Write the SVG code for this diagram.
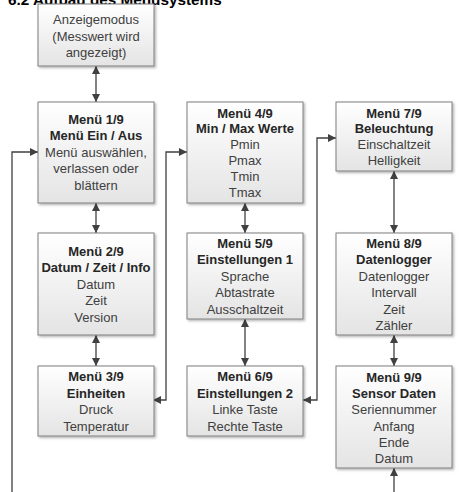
<svg xmlns="http://www.w3.org/2000/svg" width="461" height="492" viewBox="0 0 461 492">
<defs>
<linearGradient id="g" x1="0" y1="0" x2="0" y2="1">
<stop offset="0" stop-color="#ffffff"/>
<stop offset="1" stop-color="#e4e4e4"/>
</linearGradient>
<filter id="sh" x="-10%" y="-10%" width="130%" height="130%">
<feDropShadow dx="1.5" dy="1.5" stdDeviation="1" flood-color="#000" flood-opacity="0.3"/>
</filter>
<marker id="a" viewBox="0 0 10 10" refX="10" refY="5" markerWidth="9" markerHeight="8" markerUnits="userSpaceOnUse" orient="auto-start-reverse">
<path d="M0,0 L10,5 L0,10 z" fill="#404040"/>
</marker>
</defs>
<style>
.box{fill:url(#g);stroke:#7f7f7f;stroke-width:1;filter:url(#sh)}
text{font-family:"Liberation Sans",Arial,sans-serif;font-size:13px;text-anchor:middle}
.h{font-weight:bold;fill:#262626}
.b{fill:#404040}
.c{fill:none;stroke:#404040;stroke-width:1.3}
.t{font-weight:bold;text-anchor:start;fill:#000;font-size:15.3px}
</style>
<text class="t" x="8" y="4.5">6.2 Aufbau des Menüsystems</text>
<g id="connectors">
<line class="c" x1="96" y1="66" x2="96" y2="102" marker-start="url(#a)" marker-end="url(#a)"/>
<line class="c" x1="96" y1="203" x2="96" y2="233" marker-start="url(#a)" marker-end="url(#a)"/>
<line class="c" x1="96" y1="335" x2="96" y2="366" marker-start="url(#a)" marker-end="url(#a)"/>
<line class="c" x1="245" y1="203" x2="245" y2="233" marker-start="url(#a)" marker-end="url(#a)"/>
<line class="c" x1="245" y1="319" x2="245" y2="366" marker-start="url(#a)" marker-end="url(#a)"/>
<line class="c" x1="394" y1="171" x2="394" y2="233" marker-start="url(#a)" marker-end="url(#a)"/>
<line class="c" x1="394" y1="335" x2="394" y2="366" marker-start="url(#a)" marker-end="url(#a)"/>
<line class="c" x1="394" y1="492" x2="394" y2="468" marker-end="url(#a)"/>
<polyline class="c" points="12,492 12,152 38,152" marker-end="url(#a)"/>
<polyline class="c" points="153,400 166,400 166,152 187,152" marker-start="url(#a)" marker-end="url(#a)"/>
<polyline class="c" points="303,400 317,400 317,138 336,138" marker-start="url(#a)" marker-end="url(#a)"/>
</g>
<g id="anzeige">
<rect class="box" x="38" y="4" width="116" height="62"/>
<text class="b" x="96" y="24">Anzeigemodus</text>
<text class="b" x="96" y="40.5">(Messwert wird</text>
<text class="b" x="96" y="57">angezeigt)</text>
</g>
<g id="m1">
<rect class="box" x="38" y="102" width="116" height="101"/>
<text class="h" x="96" y="123.5">Menü 1/9</text>
<text class="h" x="96" y="140">Menü Ein / Aus</text>
<text class="b" x="96" y="156.5">Menü auswählen,</text>
<text class="b" x="96" y="173">verlassen oder</text>
<text class="b" x="96" y="190">blättern</text>
</g>
<g id="m2">
<rect class="box" x="38" y="233" width="116" height="102"/>
<text class="h" x="96" y="255.5">Menü 2/9</text>
<text class="h" x="96" y="272">Datum / Zeit / Info</text>
<text class="b" x="96" y="288.5">Datum</text>
<text class="b" x="96" y="305">Zeit</text>
<text class="b" x="96" y="321.5">Version</text>
</g>
<g id="m3">
<rect class="box" x="38" y="366" width="116" height="70"/>
<text class="h" x="96" y="381">Menü 3/9</text>
<text class="h" x="96" y="397.5">Einheiten</text>
<text class="b" x="96" y="414">Druck</text>
<text class="b" x="96" y="430.5">Temperatur</text>
</g>
<g id="m4">
<rect class="box" x="187" y="102" width="116" height="101"/>
<text class="h" x="245" y="117.5">Menü 4/9</text>
<text class="h" x="245" y="133">Min / Max Werte</text>
<text class="b" x="245" y="149">Pmin</text>
<text class="b" x="245" y="165">Pmax</text>
<text class="b" x="245" y="181">Tmin</text>
<text class="b" x="245" y="197">Tmax</text>
</g>
<g id="m5">
<rect class="box" x="187" y="233" width="116" height="86"/>
<text class="h" x="245" y="247.5">Menü 5/9</text>
<text class="h" x="245" y="264">Einstellungen 1</text>
<text class="b" x="245" y="280.5">Sprache</text>
<text class="b" x="245" y="297">Abtastrate</text>
<text class="b" x="245" y="313.5">Ausschaltzeit</text>
</g>
<g id="m6">
<rect class="box" x="187" y="366" width="116" height="70"/>
<text class="h" x="245" y="381">Menü 6/9</text>
<text class="h" x="245" y="397.5">Einstellungen 2</text>
<text class="b" x="245" y="414">Linke Taste</text>
<text class="b" x="245" y="430.5">Rechte Taste</text>
</g>
<g id="m7">
<rect class="box" x="336" y="102" width="116" height="69"/>
<text class="h" x="394" y="117.5">Menü 7/9</text>
<text class="h" x="394" y="133">Beleuchtung</text>
<text class="b" x="394" y="149">Einschaltzeit</text>
<text class="b" x="394" y="165">Helligkeit</text>
</g>
<g id="m8">
<rect class="box" x="336" y="233" width="116" height="102"/>
<text class="h" x="394" y="247.5">Menü 8/9</text>
<text class="h" x="394" y="264">Datenlogger</text>
<text class="b" x="394" y="280.5">Datenlogger</text>
<text class="b" x="394" y="297">Intervall</text>
<text class="b" x="394" y="313.5">Zeit</text>
<text class="b" x="394" y="330">Zähler</text>
</g>
<g id="m9">
<rect class="box" x="336" y="366" width="116" height="102"/>
<text class="h" x="394" y="381.5">Menü 9/9</text>
<text class="h" x="394" y="397.5">Sensor Daten</text>
<text class="b" x="394" y="414">Seriennummer</text>
<text class="b" x="394" y="430.5">Anfang</text>
<text class="b" x="394" y="446.5">Ende</text>
<text class="b" x="394" y="462.5">Datum</text>
</g>
</svg>
